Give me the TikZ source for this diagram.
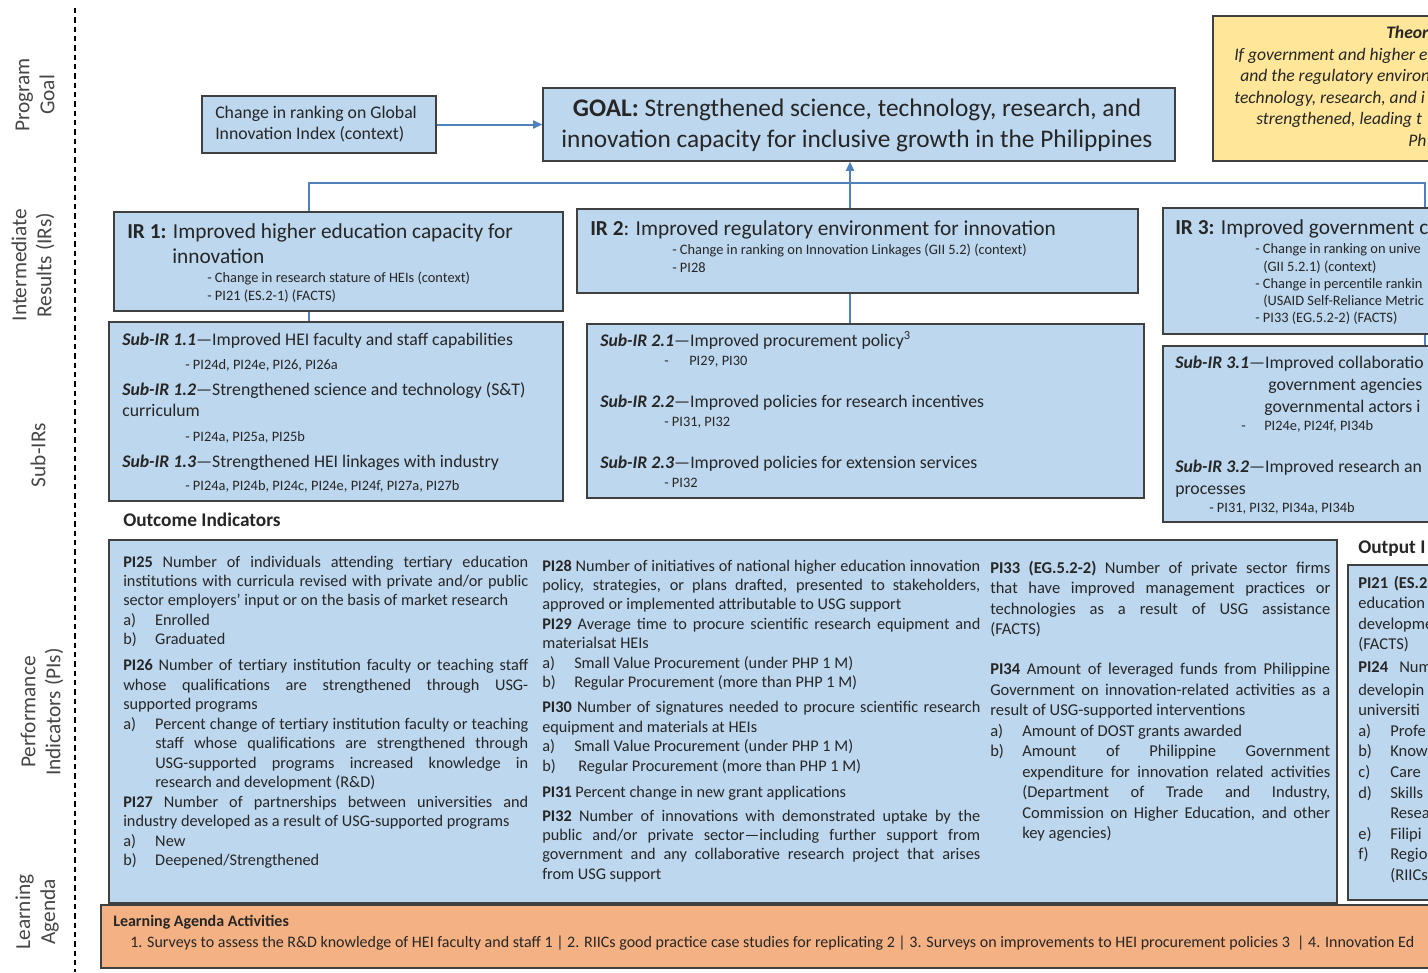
\documentclass[tikz,border=0pt]{standalone}
\usepackage{fontspec}
\setmainfont{Carlito}
\usepackage{tikz}
\usetikzlibrary{fit,arrows.meta}

\definecolor{boxblue}{RGB}{189,215,238}
\definecolor{boxline}{RGB}{64,64,64}
\definecolor{linkblue}{RGB}{79,129,189}
\definecolor{theoryfill}{RGB}{255,230,153}
\definecolor{agendafill}{RGB}{244,177,131}
\definecolor{ink}{RGB}{38,38,38}
\definecolor{sideink}{RGB}{70,70,70}

\newcommand{\goalfont}{\fontsize{19}{23.25}\selectfont}
\newcommand{\irfont}{\fontsize{16}{19}\selectfont}
\newcommand{\subfont}{\fontsize{13.3}{15.75}\selectfont}
\newcommand{\smallfont}{\fontsize{10.8}{13}\selectfont}
\newcommand{\pifont}{\fontsize{12.2}{14.6}\selectfont}
\newcommand{\pibigfont}{\fontsize{12.4}{15.4}\selectfont}
\newcommand{\sidefont}{\fontsize{16}{18.75}\selectfont}
\newcommand{\agendafont}{\fontsize{12}{15}\selectfont}
\newcommand{\headfont}{\fontsize{14.5}{17}\selectfont\bfseries}
\newcommand{\theoryfont}{\fontsize{13.2}{16}\selectfont\itshape}
\newcommand{\subir}[1]{\textbf{\textit{Sub-IR #1}}}
\newcommand{\lbl}[1]{\makebox[24pt][l]{#1}}
\newcommand{\itm}[1]{\hangindent=24pt\hangafter=1\lbl{#1}}

\tolerance=9999
\hyphenpenalty=10000

\begin{document}
\begin{tikzpicture}[x=0.75pt,y=0.75pt,yscale=-1,xscale=1,
  box/.style={draw=boxline, fill=boxblue, line width=0.9pt, inner sep=0pt},
  txt/.style={anchor=base west, inner sep=0pt, text=ink},
  para/.style={txt, align=justify},
  link/.style={draw=linkblue, line width=1.5pt},
  tip/.style={-{Triangle[length=7pt,width=6pt]}},
  side/.style={rotate=90, align=center, inner sep=0pt, text=sideink, font=\sidefont}]
\useasboundingbox (0,0) rectangle (1428,972);
\clip (0,0) rectangle (1428,972);
\fill[white] (0,0) rectangle (1428,972);

% Row labels
\node[side] (lbgoal) at (35,95) {Program\\Goal};
\node[side] (lbir) at (33,265) {Intermediate\\Results (IRs)};
\node[side] (lbsub) at (38,455) {Sub-IRs};
\node[side] (lbpi) at (42,712) {Performance\\Indicators (PIs)};
\node[side] (lbla) at (37,912) {Learning\\Agenda};
%Straight Lines
\draw [dash pattern={on 4pt off 3pt}, line width=0.8pt] (75,8) -- (75,972);

%Shape: Rectangle
\node[box, fit={(202,96) (436,153)}] (gii) {};
\node[box, fit={(543,88) (1175,161)}] (goal) {};
\node[box, fill=theoryfill, fit={(1213,16) (1450,161)}] (theory) {};
\node[box, fit={(114,212) (563,311)}] (ir1) {};
\node[box, fit={(577,209) (1138,293)}] (ir2) {};
\node[box, fit={(1163,208) (1690,334)}] (ir3) {};
\node[box, fit={(109,322) (563,501)}] (sub1) {};
\node[box, fit={(587,324) (1144,498)}] (sub2) {};
\node[box, fit={(1163,346) (1690,522)}] (sub3) {};
\node[box, fit={(109,540) (1337,903)}] (pis) {};
\node[box, fit={(1348,565) (1450,900)}] (outs) {};
\node[box, fill=agendafill, fit={(101,905) (1450,968)}] (agenda) {};

%Connectors
\coordinate (j1) at (309,183);
\coordinate (j2) at (850,183);
\coordinate (j3) at (1425,183);
\draw[link] (j1 |- ir1.north) -- (j1) -- (j3) -- (j3 |- ir3.north);
\draw[link, tip] (j2) -- (j2 |- goal.south);
\draw[link] (j2) -- (j2 |- ir2.north);
\draw[link, tip] (gii) -- (goal);
\draw[link] (j1 |- ir1.south) -- (j1 |- sub1.north);
\draw[link] (j2 |- ir2.south) -- (j2 |- sub2.north);
\draw[link] (j3 |- ir3.south) -- (j3 |- sub3.north);

% Text Node
\node[txt, anchor=center, align=center, font=\goalfont] (tgoal) at (857,125) {\textbf{GOAL:} Strengthened science, technology, research, and\\innovation capacity for inclusive growth in the Philippines};
% Text Node
\node[txt, anchor=west, align=left, font=\fontsize{13.3}{15.75}\selectfont] (tgii) at (215,124) {Change in ranking on Global\\Innovation Index (context)};
% Text Node
\node[txt, font=\theoryfont\bfseries] (th0) at (1386,38) {Theor};
\node[txt, font=\theoryfont] (th1) at (1234,60) {If government  and higher e};
\node[txt, font=\theoryfont] (th2) at (1240,81) {and the regulatory environ};
\node[txt, font=\theoryfont] (th3) at (1234,103) {technology, research, and i};
\node[txt, font=\theoryfont] (th4) at (1256,124) {strengthened, leading t};
\node[txt, font=\theoryfont] (th5) at (1408,146) {Ph};

% Text Node
\node[txt, font=\irfont] (tir1) at (127,238) {\textbf{IR 1:} Improved higher education capacity for};
\node[txt, font=\irfont] (tir1b) at (172,263) {innovation};
\node[txt, font=\smallfont] (tir1c) at (207,282) {- Change in research stature of HEIs (context)};
\node[txt, font=\smallfont] (tir1d) at (207,300) {- PI21 (ES.2-1) (FACTS)};
% Text Node
\node[txt, font=\irfont] (tir2) at (590,235) {\textbf{IR 2}: Improved regulatory environment for innovation};
\node[txt, font=\smallfont] (tir2b) at (672,254) {- Change in ranking on Innovation Linkages (GII 5.2) (context)};
\node[txt, font=\smallfont] (tir2c) at (672,272) {- PI28};
% Text Node
\node[txt, font=\irfont] (tir3) at (1175,234) {\textbf{IR 3:} Improved government c};
\node[txt, font=\smallfont] (tir3b) at (1255,253) {- Change in ranking on unive};
\node[txt, font=\smallfont] (tir3c) at (1263,271) {(GII 5.2.1) (context)};
\node[txt, font=\smallfont] (tir3d) at (1255,288) {- Change in percentile rankin};
\node[txt, font=\smallfont] (tir3e) at (1263,305) {(USAID Self-Reliance Metric};
\node[txt, font=\smallfont] (tir3f) at (1255,322) {- PI33 (EG.5.2-2) (FACTS)};

% Text Node
\node[txt, font=\subfont] (ts11) at (122,345) {\subir{1.1}—Improved HEI faculty and staff capabilities};
\node[txt, font=\smallfont] (ts11p) at (185,369) {- PI24d, PI24e, PI26, PI26a};
\node[txt, font=\subfont] (ts12) at (122,395) {\subir{1.2}—Strengthened science and technology (S\&T)};
\node[txt, font=\subfont] (ts12b) at (122,416) {curriculum};
\node[txt, font=\smallfont] (ts12p) at (185,441) {- PI24a, PI25a, PI25b};
\node[txt, font=\subfont] (ts13) at (122,467) {\subir{1.3}—Strengthened HEI linkages with industry};
\node[txt, font=\smallfont] (ts13p) at (185,490) {- PI24a, PI24b, PI24c, PI24e, PI24f, PI27a, PI27b};
% Text Node
\node[txt, font=\subfont] (ts21) at (600,346) {\subir{2.1}—Improved procurement policy\textsuperscript{3}};
\node[txt, font=\smallfont] (ts21d) at (664,365) {-};
\node[txt, font=\smallfont] (ts21p) at (689,365) {PI29, PI30};
\node[txt, font=\subfont] (ts22) at (600,407) {\subir{2.2}—Improved policies for research incentives};
\node[txt, font=\smallfont] (ts22p) at (664,426) {- PI31, PI32};
\node[txt, font=\subfont] (ts23) at (600,468) {\subir{2.3}—Improved policies for extension services};
\node[txt, font=\smallfont] (ts23p) at (664,487) {- PI32};
% Text Node
\node[txt, font=\subfont] (ts31) at (1175,368) {\subir{3.1}—Improved collaboratio};
\node[txt, font=\subfont] (ts31b) at (1268,390) {government agencies};
\node[txt, font=\subfont] (ts31c) at (1264,412) {governmental actors i};
\node[txt, font=\smallfont] (ts31d) at (1241,430) {-};
\node[txt, font=\smallfont] (ts31p) at (1264,430) {PI24e, PI24f, PI34b};
\node[txt, font=\subfont] (ts32) at (1175,472) {\subir{3.2}—Improved research an};
\node[txt, font=\subfont] (ts32b) at (1175,494) {processes};
\node[txt, font=\smallfont] (ts32p) at (1209,512) {- PI31, PI32, PI34a, PI34b};

% Text Node
\node[txt, font=\headfont] (toutc) at (123,526) {Outcome Indicators};
\node[txt, font=\headfont] (toutp) at (1358,553) {Output I};

% Text Node
\node[para, text width=303.75pt, font=\pifont] (col1) at (123,567) {%
\textbf{PI25} Number of individuals attending tertiary education\linebreak institutions with curricula revised with private and/or public\linebreak sector employers’ input or on the basis of market research\par
\itm{a)}Enrolled\par
\itm{b)}Graduated\par\vspace{4.9pt}
\textbf{PI26} Number of tertiary institution faculty or teaching staff\linebreak whose qualifications are strengthened through USG-\linebreak supported programs\par
\itm{a)}Percent change of tertiary institution faculty or teaching\linebreak staff whose qualifications are strengthened through\linebreak USG-supported programs increased knowledge in\linebreak research and development (R\&D)\par
\textbf{PI27} Number of partnerships between universities and\linebreak industry developed as a result of USG-supported programs\par
\itm{a)}New\par
\itm{b)}Deepened/Strengthened\par};
% Text Node
\node[para, text width=328.5pt, font=\pifont] (col2) at (542,571) {%
\textbf{PI28} Number of initiatives of national higher education innovation\linebreak policy, strategies, or plans drafted, presented to stakeholders,\linebreak approved or implemented attributable to USG support\par
\textbf{PI29} Average time to procure scientific research equipment and\linebreak materialsat HEIs\par
\itm{a)}Small Value Procurement (under PHP 1 M)\par
\itm{b)}Regular Procurement (more than PHP 1 M)\par\vspace{4pt}
\textbf{PI30} Number of signatures needed to procure scientific research\linebreak equipment and materials at HEIs\par
\itm{a)}Small Value Procurement (under PHP 1 M)\par
\itm{b)}\hspace{3pt}Regular Procurement (more than PHP 1 M)\par\vspace{4.9pt}
\textbf{PI31} Percent change in new grant applications\par\vspace{3.4pt}
\textbf{PI32} Number of innovations with demonstrated uptake by the\linebreak public and/or private sector—including further support from\linebreak government and any collaborative research project that arises\linebreak from USG support\par};
% Text Node
\node[para, text width=255pt, font=\pibigfont] (col3) at (990,573) {%
\textbf{PI33 (EG.5.2-2)} Number of private sector firms\linebreak that have improved management practices or\linebreak technologies as a result of USG assistance\linebreak (FACTS)\par\vspace{14.6pt}
\textbf{PI34} Amount of leveraged funds from Philippine\linebreak Government on innovation-related activities as a\linebreak result of USG-supported interventions\par
\itm{a)}Amount of DOST grants awarded\par
\itm{b)}Amount of Philippine Government\linebreak expenditure for innovation related activities\linebreak (Department of Trade and Industry,\linebreak Commission on Higher Education, and other\linebreak key agencies)\par};
% Text Node
\node[txt, text width=150pt, align=left, font=\pibigfont] (col4) at (1358,588) {%
\textbf{PI21 (ES.2}\\
education\\
developme\\
(FACTS)\\[1.5pt]
\textbf{PI24} \ Num\\[2pt]
developin\\
universiti\\
\lbl{a)}Profe\\
\lbl{b)}Know\\
\lbl{c)}Care\\
\lbl{d)}Skills\\
\lbl{}Resea\\
\lbl{e)}Filipi\\
\lbl{f)}Regio\\
\lbl{}(RIICs};

% Text Node
\node[txt, font=\agendafont\bfseries] (tla1) at (113,926) {Learning Agenda Activities};
\node[txt, font=\agendafont] (tla2) at (130,947) {1. Surveys to assess the R\&D knowledge of HEI faculty and staff 1 | 2. RIICs good practice case studies for replicating 2 | 3. Surveys on improvements to HEI procurement policies 3 \ | 4. Innovation Ed};
\end{tikzpicture}
\end{document}
